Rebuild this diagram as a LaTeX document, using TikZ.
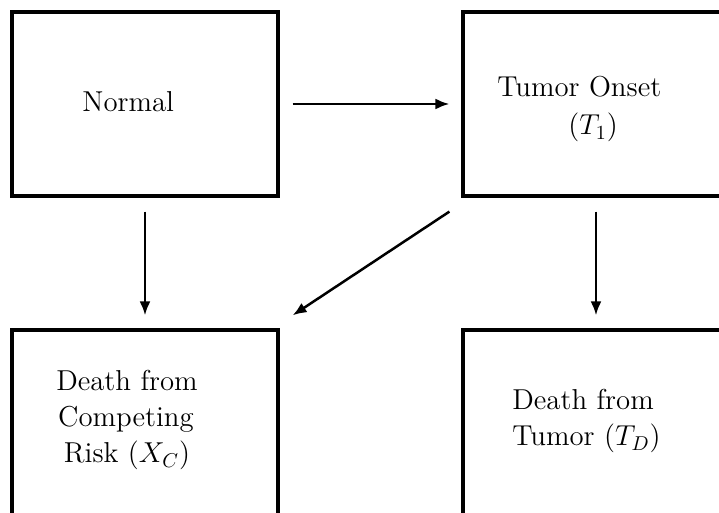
\documentclass[tikz,border=0pt]{standalone}
\usetikzlibrary{arrows.meta,calc}
\begin{document}
\begin{tikzpicture}[x=0.5pt,y=-0.5pt,
  statebox/.style={draw,line width=1.6pt,minimum width=133pt,minimum height=92pt,inner sep=0pt},
  lowbox/.style={draw,line width=1.6pt,minimum width=133pt,minimum height=95pt,inner sep=0pt},
  lbl/.style={font=\Large,inner sep=0pt},
  flow/.style={line width=1.25pt,-{Latex[length=7pt,width=5.5pt]}}]
\clip (0,0) rectangle (719,513);
\node[statebox] (TL) at (145,104) {};
\node[statebox] (TR) at (596,104) {};
\node[lowbox] (BL) at (145,425) {};
\node[lowbox] (BR) at (596,425) {};
\node[lbl,anchor=base west] (tn) at (82,112) {Normal};
\node[lbl,anchor=base west] (tt1) at (497,97) {Tumor Onset};
\node[lbl,anchor=base west] (tt2) at (568,135) {($T_1$)};
\node[lbl,anchor=base] (bl1) at (127,391) {Death from};
\node[lbl,anchor=base] (bl2) at (126,427) {Competing};
\node[lbl,anchor=base] (bl3) at (127,463) {Risk ($X_C$)};
\node[lbl,anchor=base west] (br1) at (512,410) {Death from};
\node[lbl,anchor=base west] (br2) at (512,446) {Tumor ($T_D$)};
\draw[flow,shorten <=6.5pt,shorten >=6pt] (TL.east) -- (TR.west);
\draw[flow,shorten <=7pt,shorten >=6.5pt] (TL.south) -- (BL.north);
\draw[flow,shorten <=7pt,shorten >=6.5pt] (TR.south) -- (BR.north);
\draw[flow] ($(TR.south west)+(-12,14)$) -- ($(BL.north east)+(13,-13)$);
\end{tikzpicture}
\end{document}
